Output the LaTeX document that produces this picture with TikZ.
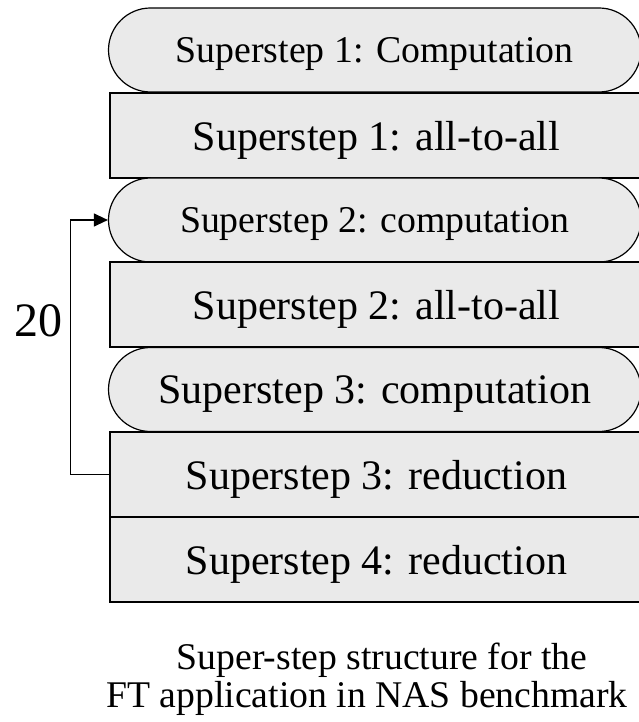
\documentclass[tikz,border=0pt]{standalone}
\usepackage{fontspec}
\setmainfont{Liberation Serif}
\usetikzlibrary{arrows.meta}
\definecolor{boxfill}{RGB}{234,234,234}
\begin{document}
\begin{tikzpicture}[x=1pt,y=-1pt,
  box/.style={draw=black, fill=boxfill, line width=1.2pt, text depth=0pt, inner sep=0pt},
  big/.style={font=\fontsize{42}{44}\selectfont},
  small/.style={font=\fontsize{37.8}{40}\selectfont},
  rbox/.style={box, rounded corners=42pt, minimum width=532.5pt, minimum height=84pt},
  sbox/.style={box, minimum width=533pt, minimum height=85pt},
  conn/.style={draw=black, line width=1.2pt, -{Triangle[length=14pt,width=13pt]}},
  caption/.style={font=\fontsize{37.7}{38}\selectfont, anchor=base, inner sep=0pt}
]
\useasboundingbox (0,0) rectangle (639,722);
\clip (0,0) rectangle (639,722);
\node[rbox, small] (b1) at (374.75,50) {Superstep 1: Computation};
\node[sbox, big]   (b2) at (376.5,135.5) {Superstep 1: all-to-all};
\node[rbox, small] (b3) at (374.75,220) {Superstep 2: computation};
\node[sbox, big]   (b4) at (376.5,304.5) {Superstep 2: all-to-all};
\node[rbox, big]   (b5) at (374.75,389.5) {Superstep 3: computation};
\node[sbox, big]   (b6) at (376.5,474.5) {Superstep 3: reduction};
\node[sbox, big]   (b7) at (376.5,559.5) {Superstep 4: reduction};
\draw[conn] (b6.west) -- ++(-39,0) |- (b3.west);
\node[font=\fontsize{48}{50}\selectfont, inner sep=0pt] (n20) at (38.5,321) {20};
\node[caption] (cap1) at (382,669) {Super-step structure for the};
\node[caption] (cap2) at (367,707) {FT application in NAS benchmark};
\end{tikzpicture}
\end{document}
